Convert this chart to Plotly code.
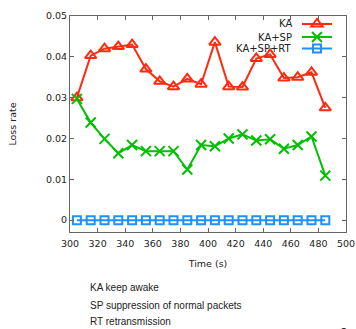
import plotly.graph_objects as go

time_s = [305, 315, 325, 335, 345, 355, 365, 375, 385, 395, 405, 415, 425, 435, 445, 455, 465, 475, 485]
ka = [0.0300, 0.0403, 0.0420, 0.0425, 0.0430, 0.0370, 0.0340, 0.0327, 0.0346, 0.0333, 0.0436,
      0.0327, 0.0326, 0.0396, 0.0406, 0.0348, 0.0350, 0.0362, 0.0275]
ka_sp = [0.0297, 0.0239, 0.0199, 0.0164, 0.0184, 0.0169, 0.0169, 0.0169, 0.0124, 0.0184, 0.0181,
         0.0200, 0.0210, 0.0195, 0.0198, 0.0175, 0.0184, 0.0205, 0.0109]
ka_sp_rt = [0.0] * 19

series_names = ["KA", "KA+SP", "KA+SP+RT"]
series_values = [ka, ka_sp, ka_sp_rt]
colors = ["#ff2a10", "#00c000", "#1e90ff"]
symbols = ["triangle-up-open", "x-thin-open", "square-open"]
msizes = [10, 10, 8]
notes = ["KA keep awake", "SP suppression of normal packets", "RT retransmission"]

L, R, T, B = 70, 10, 16, 97
W, H = 356, 329
pw, ph = W - L - R, H - T - B

fig = go.Figure()
legend_rows_px = [24, 37, 48.5]
for i, (nm, vals) in enumerate(zip(series_names, series_values)):
    lg = "legend" if i == 0 else f"legend{i+1}"
    fig.add_trace(go.Scatter(
        x=time_s, y=vals, mode="lines+markers", name=" ",
        line=dict(color=colors[i], width=2),
        marker=dict(symbol=symbols[i], size=msizes[i], color=colors[i],
                    line=dict(color=colors[i], width=2)),
        legend=lg, showlegend=True,
    ))

def px2paper_x(px):
    return (px - L) / pw

def px2paper_y(py):
    return 1 - (py - T) / ph

legends = {}
for i, py in enumerate(legend_rows_px):
    key = "legend" if i == 0 else f"legend{i+1}"
    legends[key] = dict(x=px2paper_x(297), y=px2paper_y(py), xanchor="left", yanchor="middle",
                        bgcolor="rgba(0,0,0,0)", borderwidth=0, itemwidth=30,
                        font=dict(size=10, family="DejaVu Sans"), tracegroupgap=0)

annotations = []
for i, (nm, py) in enumerate(zip(series_names, legend_rows_px)):
    annotations.append(dict(x=px2paper_x(294), y=px2paper_y(py), xref="paper", yref="paper",
                            text=nm, showarrow=False, xanchor="right", yanchor="middle",
                            font=dict(size=10, family="DejaVu Sans", color="#222")))
for j, (txt, py) in enumerate(zip(notes, [287, 305, 321])):
    annotations.append(dict(x=px2paper_x(88), y=px2paper_y(py), xref="paper", yref="paper",
                            text=txt, showarrow=False, xanchor="left", yanchor="middle",
                            font=dict(size=10, family="Liberation Sans", color="#222")))
annotations.append(dict(x=px2paper_x(344), y=px2paper_y(323), xref="paper", yref="paper",
                        text="9", showarrow=False, xanchor="center", yanchor="top",
                        font=dict(size=14, family="Liberation Sans", color="#222")))

axis_common = dict(showline=True, linecolor="#666", linewidth=1, mirror="ticks",
                   ticks="inside", ticklen=4, tickcolor="#666", showgrid=False, zeroline=False,
                   tickfont=dict(size=9.5, family="DejaVu Sans", color="#222"))

fig.update_layout(
    width=W, height=H, margin=dict(l=L, r=R, t=T, b=B, autoexpand=False),
    paper_bgcolor="white", plot_bgcolor="white",
    xaxis=dict(range=[300, 500], dtick=20, tick0=300, ticklabelstandoff=3,
               title=dict(text="Time (s)", standoff=11,
                          font=dict(size=9.5, family="DejaVu Sans", color="#222")),
               **axis_common),
    yaxis=dict(range=[-0.0029, 0.05], dtick=0.01, tick0=0,
               title=dict(text="Loss rate", standoff=27,
                          font=dict(size=9.5, family="DejaVu Sans", color="#222")),
               **axis_common),
    annotations=annotations,
    **legends,
)

fig.write_html("out.html", config={"displayModeBar": False},
               post_script="document.body.style.margin='0';document.body.style.overflow='hidden';")
